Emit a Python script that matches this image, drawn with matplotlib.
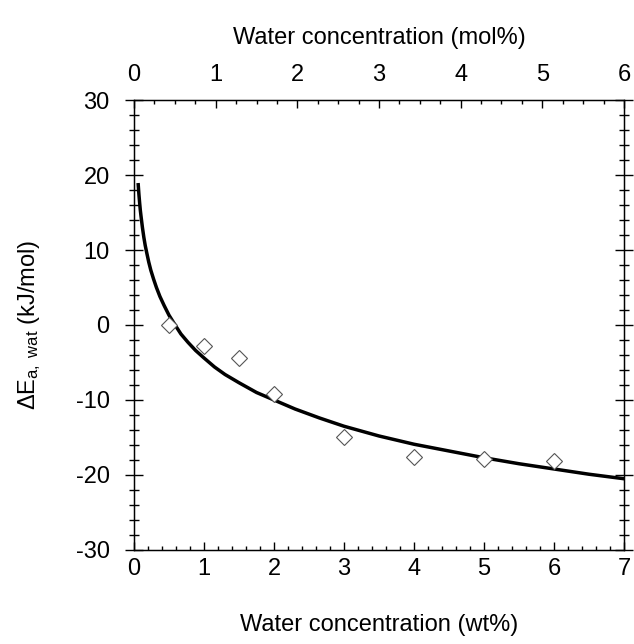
import numpy as np
import matplotlib
matplotlib.use('Agg')
import matplotlib.pyplot as plt
from matplotlib.ticker import MultipleLocator

# measured points (wt% water, delta Ea)
wt_pts = [0.5, 1.0, 1.5, 2.0, 3.0, 4.0, 5.0, 6.0]
dea_pts = [0.0, -2.8, -4.4, -9.2, -14.9, -17.6, -17.9, -18.1]

# fitted curve
wt_fit = [0.06, 0.07, 0.08, 0.09, 0.10, 0.12, 0.14, 0.16, 0.18, 0.21, 0.24,
          0.28, 0.32, 0.37, 0.43, 0.5, 0.58, 0.67, 0.77, 0.88, 1.0, 1.15,
          1.3, 1.5, 1.75, 2.0, 2.3, 2.65, 3.0, 3.5, 4.0, 4.5, 5.0, 5.5, 6.0,
          6.5, 7.0]
dea_fit = [18.7, 17.4, 16.3, 15.3, 14.5, 13.0, 11.7, 10.6, 9.7, 8.4, 7.3,
           6.1, 5.0, 3.8, 2.6, 1.3, 0.1, -1.2, -2.3, -3.4, -4.4, -5.6,
           -6.6, -7.7, -9.0, -10.0, -11.2, -12.4, -13.5, -14.8, -15.9,
           -16.8, -17.7, -18.5, -19.2, -19.9, -20.5]

plt.rcParams['font.family'] = ['Liberation Sans', 'DejaVu Sans']
plt.rcParams['mathtext.fontset'] = 'custom'
plt.rcParams['mathtext.rm'] = 'Liberation Sans'
plt.rcParams['mathtext.it'] = 'Liberation Sans'
plt.rcParams['axes.unicode_minus'] = False
fs = 17

fig = plt.figure(figsize=(6.34, 6.44), dpi=100)
ax = fig.add_axes([0.2114, 0.146, 0.7728, 0.6987])

ax.plot(wt_fit, dea_fit, color='black', lw=2.5, zorder=2,
        solid_joinstyle='round')
ax.plot(wt_pts, dea_pts, 'D', ms=8.5, mfc='white', mec='#555555', mew=0.8,
        zorder=3)

ax.set_xlim(0, 7)
ax.set_ylim(-30, 30)
ax.xaxis.set_major_locator(MultipleLocator(1))
ax.xaxis.set_minor_locator(MultipleLocator(0.2))
ax.yaxis.set_major_locator(MultipleLocator(10))
ax.yaxis.set_minor_locator(MultipleLocator(2))

ax.tick_params(axis='x', which='major', direction='in', length=6, width=1,
               labelsize=fs, pad=6)
ax.tick_params(axis='x', which='minor', direction='in', length=3, width=1)
ax.tick_params(axis='y', which='major', direction='inout', length=13, width=1,
               labelsize=fs, pad=11, right=True)
ax.tick_params(axis='y', which='minor', direction='inout', length=7, width=1,
               right=True)
for s in ax.spines.values():
    s.set_linewidth(1.0)

ax.set_xlabel('Water concentration (wt%)', fontsize=fs)
ax.xaxis.set_label_coords(0.5, -0.143)
ax.set_ylabel(r'$\Delta$E$_{\rm a,\ wat}$ (kJ/mol)', fontsize=fs)
ax.yaxis.set_label_coords(-0.186, 0.5)

# top axis in mol%
top = ax.twiny()
top.set_xlim(0, 6)
top.xaxis.set_major_locator(MultipleLocator(1))
top.xaxis.set_minor_locator(MultipleLocator(0.25))
top.tick_params(axis='x', which='major', direction='in', length=6, width=1,
                labelsize=fs, pad=10)
top.tick_params(axis='x', which='minor', direction='in', length=3, width=1)
top.set_xlabel('Water concentration (mol%)', fontsize=fs)
top.xaxis.set_label_coords(0.5, 1.125)

fig.savefig('out.png', dpi=100)
